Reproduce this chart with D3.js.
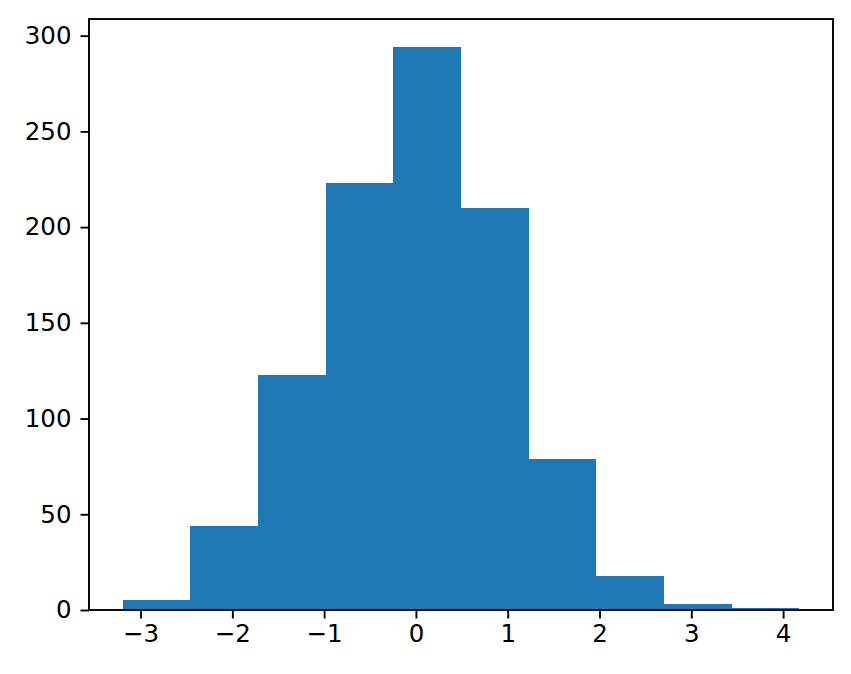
<!DOCTYPE html>
<html>
<head>
<meta charset="utf-8">
<script src="https://cdn.jsdelivr.net/npm/d3@7"></script>
<style>
  body { margin: 0; background: #fff; }
</style>
</head>
<body>
<div id="chart"></div>
<script>
// histogram, 10 bins
var binEdges = [-3.193, -2.456, -1.719, -0.983, -0.246, 0.491, 1.228, 1.965, 2.701, 3.438, 4.175];
var counts = [5, 44, 123, 223, 294, 210, 79, 18, 3, 1];
var xTicks = [-3, -2, -1, 0, 1, 2, 3, 4];
var yTicks = [0, 50, 100, 150, 200, 250, 300];

var svgWidth = 851;
var svgHeight = 674;

var margin = { top: 19, right: 18, bottom: 64, left: 89 };
var width = svgWidth - margin.left - margin.right;
var height = svgHeight - margin.top - margin.bottom;

var svg = d3.select('#chart')
  .append('svg')
  .attr('width', svgWidth)
  .attr('height', svgHeight);

var chartGroup = svg.append('g')
  .attr('transform', `translate(${margin.left}, ${margin.top})`);

// matplotlib style 5% margins
var xMin = binEdges[0], xMax = binEdges[binEdges.length - 1];
var xPad = (xMax - xMin) * 0.05;
var xScale = d3.scaleLinear()
  .domain([xMin - xPad, xMax + xPad])
  .range([0, width]);

var yScale = d3.scaleLinear()
  .domain([0, d3.max(counts) * 1.05])
  .range([height, 0]);

var bins = counts.map((c, i) => ({ x0: binEdges[i], x1: binEdges[i + 1], count: c }));

chartGroup.selectAll('rect.bar')
  .data(bins)
  .enter()
  .append('rect')
  .attr('class', 'bar')
  .attr('x', d => xScale(d.x0))
  .attr('width', d => xScale(d.x1) - xScale(d.x0))
  .attr('y', d => yScale(d.count))
  .attr('height', d => height - yScale(d.count))
  .attr('fill', '#1f77b4')
  .attr('shape-rendering', 'crispEdges');

var fmt = d => (d < 0 ? '\u2212' + Math.abs(d) : '' + d);

var bottomAxis = d3.axisBottom(xScale)
  .tickValues(xTicks)
  .tickFormat(fmt)
  .tickSize(8.5)
  .tickPadding(6);

var leftAxis = d3.axisLeft(yScale)
  .tickValues(yTicks)
  .tickSize(8.5)
  .tickPadding(9);

var xAxis = chartGroup.append('g')
  .attr('transform', `translate(0, ${height})`)
  .call(bottomAxis);

var yAxis = chartGroup.append('g').call(leftAxis);

[xAxis, yAxis].forEach(function (ax) {
  ax.attr('font-family', 'DejaVu Sans').attr('font-size', 24.5);
  ax.select('.domain').remove();
  ax.selectAll('.tick line').attr('stroke', '#000').attr('stroke-width', 1.9);
  ax.selectAll('.tick text').attr('fill', '#000');
});

// frame
chartGroup.append('rect')
  .attr('x', 0)
  .attr('y', 0)
  .attr('width', width)
  .attr('height', height)
  .attr('fill', 'none')
  .attr('stroke', '#000')
  .attr('stroke-width', 1.9);
</script>
</body>
</html>
